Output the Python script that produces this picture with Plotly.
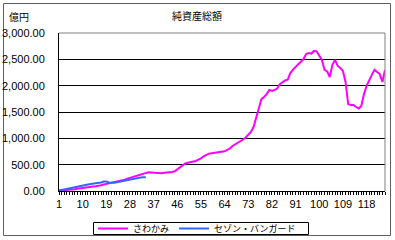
import plotly.graph_objects as go

title = "純資産総額"
unit_label = "億円"
series_names = ["さわかみ", "セゾン・バンガード"]

periods_sawakami = list(range(1, 126))
sawakami = [
    10, 12, 15, 19, 23, 27, 32, 42, 51, 61,
    66, 70, 76, 84, 91, 95, 108, 122, 133, 142,
    154, 169, 180, 190, 198, 216, 235, 251, 266, 281,
    294, 313, 336, 351, 355, 351, 346, 338, 336, 338,
    346, 349, 355, 361, 374, 408, 446, 484, 522, 537,
    547, 555, 570, 594, 617, 659, 693, 710, 716, 725,
    735, 741, 746, 754, 779, 807, 855, 883, 912, 940,
    978, 1016, 1063, 1120, 1215, 1385, 1555, 1745, 1785, 1840,
    1920, 1900, 1920, 1945, 2030, 2070, 2100, 2115, 2240, 2305,
    2355, 2400, 2440, 2505, 2600, 2620, 2610, 2660, 2650, 2565,
    2490, 2300, 2270, 2165, 2395, 2490, 2375, 2335, 2280, 2070,
    1650, 1635, 1635, 1595, 1565, 1615, 1840, 1995, 2110, 2205,
    2300, 2260, 2220, 2070, 2300,
]

periods_sezon = list(range(1, 35))
sezon = [
    8, 19, 32, 42, 57, 66, 80, 91, 103, 110,
    118, 125, 131, 137, 141, 146, 161, 180, 180, 161,
    158, 158, 167, 178, 190, 199, 209, 218, 228, 237,
    251, 256, 260, 262,
]

x_tickvals = list(range(1, 126, 9))
y_tickvals = [0, 500, 1000, 1500, 2000, 2500, 3000]

num_font = "Liberation Sans, Arial, sans-serif"
jp_font = "Noto Sans CJK JP, sans-serif"

fig = go.Figure()
fig.add_trace(go.Scatter(x=periods_sawakami, y=sawakami, mode="lines",
                         name=series_names[0],
                         line=dict(color="#FF00FF", width=2)))
fig.add_trace(go.Scatter(x=periods_sezon, y=sezon, mode="lines",
                         name=series_names[1],
                         line=dict(color="#3366FF", width=2)))

L, R, T, B = 59, 10, 33, 49
W, H = 395, 240
pw, ph = W - L - R, H - T - B

def px(x):
    return (x - L) / pw

def py(y):
    return (H - B - y) / ph

fig.update_layout(
    width=W, height=H,
    margin=dict(l=L, r=R, t=T, b=B, pad=0, autoexpand=False),
    paper_bgcolor="white", plot_bgcolor="white",
    showlegend=True,
    legend=dict(orientation="h", x=px(93), y=py(228.5), xanchor="left", yanchor="middle",
                borderwidth=0, bgcolor="rgba(0,0,0,0)",
                font=dict(family=jp_font, size=9, color="black"),
                itemwidth=30, tracegroupgap=0),
    xaxis=dict(range=[1, 125], tickvals=x_tickvals, ticks="outside", ticklen=3,
               tickcolor="black", showline=True, linecolor="black", linewidth=1,
               showgrid=False, zeroline=False,
               tickfont=dict(family=num_font, size=11, color="black"),
               minor=dict(dtick=1, tick0=1, ticks="outside", ticklen=3, tickcolor="black"),
               ),
    yaxis=dict(range=[0, 3000], tickvals=y_tickvals, tickformat=",.2f",
               showline=True, linecolor="black", linewidth=1,
               showgrid=True, gridcolor="black", gridwidth=1, zeroline=False,
               ticks="", ticklabelstandoff=11,
               tickfont=dict(family=num_font, size=11, color="black")),
    shapes=[
        dict(type="line", xref="paper", yref="paper", x0=0, x1=1, y0=1, y1=1,
             line=dict(color="#808080", width=1)),
        dict(type="line", xref="paper", yref="paper", x0=1, x1=1, y0=0, y1=1,
             line=dict(color="#808080", width=1)),
        dict(type="rect", xref="paper", yref="paper", x0=px(3.5), x1=px(390.5),
             y0=py(235.5), y1=py(3.5), line=dict(color="#606060", width=1),
             layer="below"),
        dict(type="rect", xref="paper", yref="paper", x0=px(93.5), x1=px(308.5),
             y0=py(234.5), y1=py(222.5), line=dict(color="black", width=1),
             layer="below"),
    ],
    annotations=[
        dict(text=title, xref="paper", yref="paper", x=px(197), y=py(15),
             xanchor="center", yanchor="middle", showarrow=False,
             font=dict(family=jp_font, size=10, color="black")),
        dict(text=unit_label, xref="paper", yref="paper", x=px(19), y=py(17),
             xanchor="center", yanchor="middle", showarrow=False,
             font=dict(family=jp_font, size=10, color="black")),
    ],
)

fig.write_html("out.html")
